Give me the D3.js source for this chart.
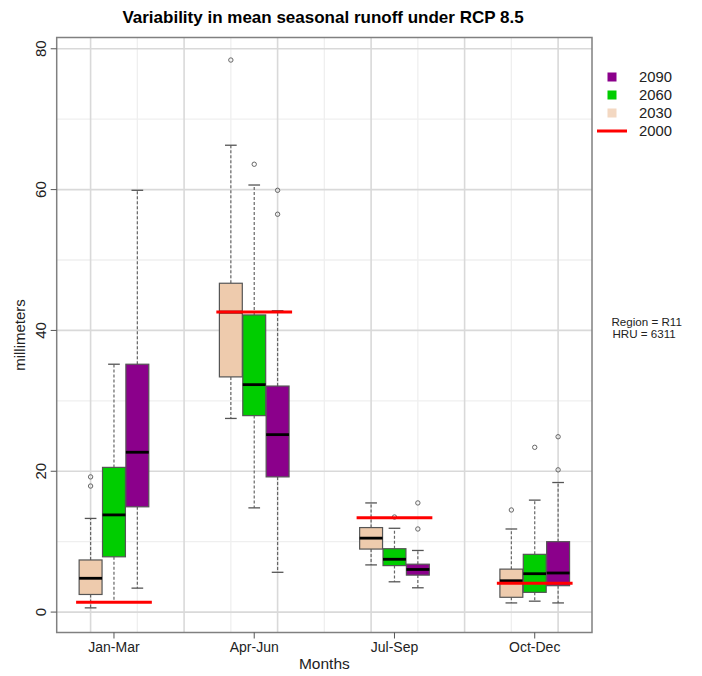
<!DOCTYPE html>
<html lang="en">
  <head>
    <meta charset="UTF-8" />
    <title>Variability in mean seasonal runoff under RCP 8.5</title>
    <script src="https://d3js.org/d3.v7.min.js"></script>
    <style>
      body {
        margin: 0;
        padding: 0;
        background-color: #ffffff;
        font-family: "Liberation Sans", Arial, sans-serif;
      }
    </style>
  </head>
  <body>
    <div id="chart"></div>

    <script>
      // -----------------------------
      // 1. Data
      // -----------------------------
      const seasons = ["Jan-Mar", "Apr-Jun", "Jul-Sep", "Oct-Dec"];
      const seriesNames = ["2030", "2060", "2090"];

      // five-number summaries per season: [lower whisker, q1, median, q3, upper whisker]
      const stats2030 = [
        [0.6, 2.5, 4.8, 7.4, 13.3],
        [27.5, 33.4, 42.6, 46.7, 66.3],
        [6.7, 8.95, 10.5, 12.0, 15.5],
        [1.3, 2.1, 4.45, 6.1, 11.8],
      ];
      const stats2060 = [
        [1.4, 7.85, 13.8, 20.55, 35.2],
        [14.8, 27.9, 32.3, 42.2, 60.65],
        [4.3, 6.6, 7.5, 9.0, 11.9],
        [1.55, 2.8, 5.45, 8.2, 15.9],
      ];
      const stats2090 = [
        [3.4, 14.95, 22.7, 35.2, 59.9],
        [5.65, 19.2, 25.2, 32.1, 42.8],
        [3.45, 5.25, 6.05, 6.8, 8.75],
        [1.3, 3.75, 5.55, 10.0, 18.4],
      ];

      // outliers per season
      const out2030 = [[19.2, 17.9], [78.4], [], [14.5]];
      const out2060 = [[], [63.6], [13.5], [23.4]];
      const out2090 = [[], [59.9, 56.5], [15.5, 11.8], [24.9, 20.2]];

      // baseline (2000) value per season
      const base2000 = [1.4, 42.6, 13.4, 4.1];

      const yTicks = [0, 20, 40, 60, 80];
      const yMinor = [10, 30, 50, 70];

      const fills = ["#EECBAD", "#00CD00", "#8B008B"];

      // -----------------------------
      // 2. Layout
      // -----------------------------
      const width = 702;
      const height = 676;
      const plot = { left: 56.7, right: 592, top: 37.5, bottom: 632.5 };

      const svg = d3
        .select("#chart")
        .append("svg")
        .attr("width", width)
        .attr("height", height)
        .style("background-color", "#ffffff");

      // positions 1,2,3 / 7,8,9 / 13,14,15 / 19,20,21
      const x = d3.scaleLinear().domain([-0.45, 22.45]).range([plot.left, plot.right]);
      const y = d3.scaleLinear().domain([-2.9, 81.6]).range([plot.bottom, plot.top]);

      const pos = (g, s) => 1 + 6 * g + s;
      const unit = x(1) - x(0);

      // -----------------------------
      // 3. Grid
      // -----------------------------
      const grid = svg.append("g");
      const vMajor = [1, 5, 9, 13, 17, 21];
      const vMinor = [3, 7, 11, 15, 19];

      grid.selectAll(".hminor").data(yMinor).enter().append("line")
        .attr("x1", plot.left).attr("x2", plot.right)
        .attr("y1", (d) => y(d)).attr("y2", (d) => y(d))
        .attr("stroke", "#efefef").attr("stroke-width", 1.3);
      grid.selectAll(".vminor").data(vMinor).enter().append("line")
        .attr("x1", (d) => x(d)).attr("x2", (d) => x(d))
        .attr("y1", plot.top).attr("y2", plot.bottom)
        .attr("stroke", "#efefef").attr("stroke-width", 1.3);
      grid.selectAll(".hmajor").data(yTicks).enter().append("line")
        .attr("x1", plot.left).attr("x2", plot.right)
        .attr("y1", (d) => y(d)).attr("y2", (d) => y(d))
        .attr("stroke", "#d9d9d9").attr("stroke-width", 1.6);
      grid.selectAll(".vmajor").data(vMajor).enter().append("line")
        .attr("x1", (d) => x(d)).attr("x2", (d) => x(d))
        .attr("y1", plot.top).attr("y2", plot.bottom)
        .attr("stroke", "#d9d9d9").attr("stroke-width", 1.6);

      // -----------------------------
      // 4. Boxes
      // -----------------------------
      const allStats = [stats2030, stats2060, stats2090];
      const allOut = [out2030, out2060, out2090];
      const boxW = 0.98 * unit;
      const capW = 0.5 * unit;

      const boxes = [];
      allStats.forEach((st, s) => {
        st.forEach((v, g) => {
          boxes.push({ g, s, p: pos(g, s), v, out: allOut[s][g], fill: fills[s] });
        });
      });

      const bg = svg.append("g");
      boxes.forEach((b) => {
        const cx = x(b.p);
        const [lw, q1, md, q3, uw] = b.v;
        const grp = bg.append("g");
        // whiskers
        grp.append("line")
          .attr("x1", cx).attr("x2", cx).attr("y1", y(q3)).attr("y2", y(uw))
          .attr("stroke", "#666").attr("stroke-width", 1.2).attr("stroke-dasharray", "3,2");
        grp.append("line")
          .attr("x1", cx).attr("x2", cx).attr("y1", y(q1)).attr("y2", y(lw))
          .attr("stroke", "#666").attr("stroke-width", 1.2).attr("stroke-dasharray", "3,2");
        // caps
        [lw, uw].forEach((c) => {
          grp.append("line")
            .attr("x1", cx - capW / 2).attr("x2", cx + capW / 2)
            .attr("y1", y(c)).attr("y2", y(c))
            .attr("stroke", "#555").attr("stroke-width", 1.3);
        });
        // box
        grp.append("rect")
          .attr("x", cx - boxW / 2).attr("width", boxW)
          .attr("y", y(q3)).attr("height", y(q1) - y(q3))
          .attr("fill", b.fill).attr("stroke", "#555").attr("stroke-width", 1.2);
        // median
        grp.append("line")
          .attr("x1", cx - boxW / 2).attr("x2", cx + boxW / 2)
          .attr("y1", y(md)).attr("y2", y(md))
          .attr("stroke", "#000").attr("stroke-width", 2.8);
        // outliers
        grp.selectAll("circle").data(b.out).enter().append("circle")
          .attr("cx", cx).attr("cy", (d) => y(d)).attr("r", 2.2)
          .attr("fill", "none").attr("stroke", "#666").attr("stroke-width", 1);
      });

      // baseline 2000 segments
      svg.append("g").selectAll("line").data(base2000).enter().append("line")
        .attr("x1", (d, i) => x(pos(i, 0) - 0.62))
        .attr("x2", (d, i) => x(pos(i, 2) + 0.62))
        .attr("y1", (d) => y(d)).attr("y2", (d) => y(d))
        .attr("stroke", "#ff0000").attr("stroke-width", 3);

      // -----------------------------
      // 5. Frame and axes
      // -----------------------------
      svg.append("rect")
        .attr("x", plot.left).attr("y", plot.top)
        .attr("width", plot.right - plot.left).attr("height", plot.bottom - plot.top)
        .attr("fill", "none").attr("stroke", "#808080").attr("stroke-width", 1.5);

      const yAxis = svg.append("g");
      yAxis.selectAll("line").data(yTicks).enter().append("line")
        .attr("x1", plot.left - 6).attr("x2", plot.left)
        .attr("y1", (d) => y(d)).attr("y2", (d) => y(d))
        .attr("stroke", "#555").attr("stroke-width", 1);
      yAxis.selectAll("text").data(yTicks).enter().append("text")
        .attr("transform", (d) => `translate(45.5,${y(d)}) rotate(-90)`)
        .attr("text-anchor", "middle")
        .attr("font-size", 15)
        .attr("fill", "#222")
        .text((d) => d);

      const xAxis = svg.append("g");
      xAxis.selectAll("line").data(seasons).enter().append("line")
        .attr("x1", (d, i) => x(pos(i, 1))).attr("x2", (d, i) => x(pos(i, 1)))
        .attr("y1", plot.bottom).attr("y2", plot.bottom + 6)
        .attr("stroke", "#555").attr("stroke-width", 1);
      xAxis.selectAll("text").data(seasons).enter().append("text")
        .attr("x", (d, i) => x(pos(i, 1)))
        .attr("y", 652)
        .attr("text-anchor", "middle")
        .attr("font-size", 14)
        .attr("fill", "#222")
        .text((d) => d);

      svg.append("text")
        .attr("x", x(11)).attr("y", 669)
        .attr("text-anchor", "middle")
        .attr("font-size", 15.5)
        .attr("fill", "#222")
        .text("Months");

      svg.append("text")
        .attr("transform", `translate(25,${(plot.top + plot.bottom) / 2}) rotate(-90)`)
        .attr("text-anchor", "middle")
        .attr("font-size", 15)
        .attr("fill", "#222")
        .text("millimeters");

      svg.append("text")
        .attr("x", 323).attr("y", 23)
        .attr("text-anchor", "middle")
        .attr("font-size", 17)
        .attr("font-weight", "bold")
        .attr("fill", "#000")
        .text("Variability in mean seasonal runoff under RCP 8.5");

      // -----------------------------
      // 6. Legend and note
      // -----------------------------
      const legendItems = [
        { label: "2090", color: fills[2], type: "box" },
        { label: "2060", color: fills[1], type: "box" },
        { label: "2030", color: "#F3D8C2", type: "box" },
        { label: "2000", color: "#ff0000", type: "line" },
      ];
      const legend = svg.append("g");
      legendItems.forEach((it, i) => {
        const ly = 77 + i * 18;
        if (it.type === "box") {
          legend.append("rect")
            .attr("x", 607.5).attr("y", ly - 4.5).attr("width", 9).attr("height", 9)
            .attr("fill", it.color);
        } else {
          legend.append("line")
            .attr("x1", 597).attr("x2", 627).attr("y1", ly).attr("y2", ly)
            .attr("stroke", it.color).attr("stroke-width", 3);
        }
        legend.append("text")
          .attr("x", 639).attr("y", ly + 5)
          .attr("font-size", 14.8)
          .attr("fill", "#222")
          .text(it.label);
      });

      svg.append("text").attr("x", 611.5).attr("y", 326)
        .attr("font-size", 11.6).attr("fill", "#222").text("Region = R11");
      svg.append("text").attr("x", 612.5).attr("y", 338)
        .attr("font-size", 11.6).attr("fill", "#222").text("HRU = 6311");
    </script>
  </body>
</html>
